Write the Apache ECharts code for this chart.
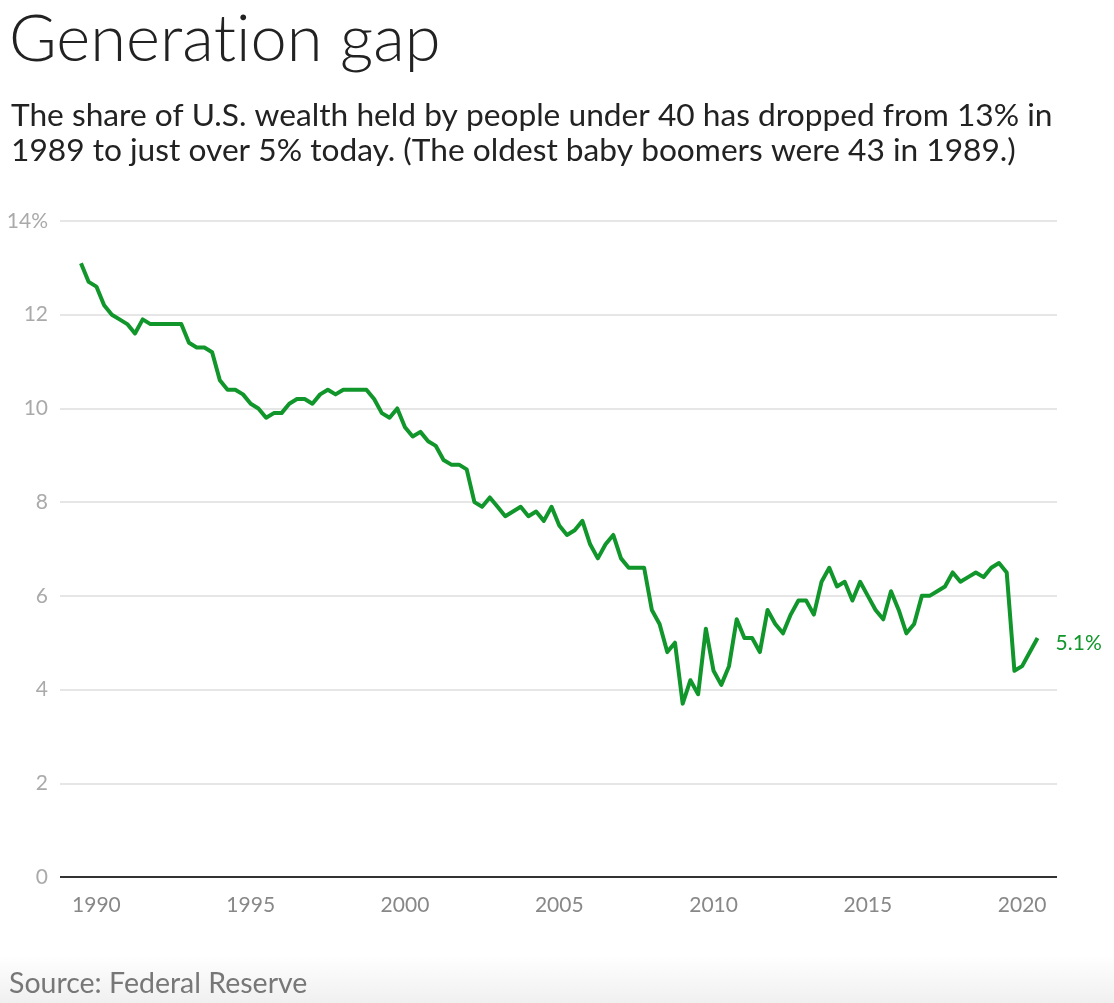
<!DOCTYPE html>
<html>
<head>
<meta charset="utf-8">
<script src="https://cdn.jsdelivr.net/npm/echarts@6/dist/echarts.min.js"></script>
<style>
  html, body { margin: 0; padding: 0; background: #fff; }
  #chart { width: 1114px; height: 1003px; }
</style>
</head>
<body>
<div id="chart"></div>
<script>
// Share of U.S. wealth held by people under 40, quarterly, 1989Q3 - 2020Q3
const startYear = 1989;
const startQuarter = 3;
const shareUnder40 = [
  13.1, 12.7, 12.6, 12.2, 12.0, 11.9, 11.8, 11.6, 11.9, 11.8, 11.8, 11.8, 11.8, 11.8, 11.4, 11.3, 11.3, 11.2, 10.6, 10.4, 10.4, 10.3,
  10.1, 10.0, 9.8, 9.9, 9.9, 10.1, 10.2, 10.2, 10.1, 10.3, 10.4, 10.3, 10.4, 10.4, 10.4, 10.4, 10.2, 9.9, 9.8, 10.0,
  9.6, 9.4, 9.5, 9.3, 9.2, 8.9, 8.8, 8.8, 8.7, 8.0, 7.9, 8.1, 7.9, 7.7, 7.8, 7.9, 7.7, 7.8, 7.6, 7.9,
  7.5, 7.3, 7.4, 7.6, 7.1, 6.8, 7.1, 7.3, 6.8, 6.6, 6.6, 6.6, 5.7, 5.4, 4.8, 5.0, 3.7, 4.2, 3.9, 5.3, 4.4, 4.1,
  4.5, 5.5, 5.1, 5.1, 4.8, 5.7, 5.4, 5.2, 5.6, 5.9, 5.9, 5.6, 6.3, 6.6, 6.2, 6.3, 5.9, 6.3, 6.0, 5.7,
  5.5, 6.1, 5.7, 5.2, 5.4, 6.0, 6.0, 6.1, 6.2, 6.5, 6.3, 6.4, 6.5, 6.4, 6.6, 6.7, 6.5, 4.4, 4.5, 4.8, 5.1
];
const yearTicks = [1990, 1995, 2000, 2005, 2010, 2015, 2020];
const yTicks = [0, 2, 4, 6, 8, 10, 12, 14];

const green = '#10962a';
const font = 'Lato, "Noto Sans", sans-serif';

// quarter index -> decimal year (Q1 = .0, Q3 = .5)
const seriesData = shareUnder40.map((v, i) => {
  const q = startQuarter - 1 + i;
  return [startYear + Math.floor(q / 4) + (q % 4) / 4, v];
});

const titleStyle = { fontFamily: font, fontWeight: 300, fontSize: 65, color: '#222' };

const chart = echarts.init(document.getElementById('chart'));
chart.setOption({
  backgroundColor: '#fff',
  animation: false,
  title: [
    {
      // "t" drawn as its own run so Lato doesn't swap in the "ti" ligature
      text: 'Genera{t|t}ion gap',
      left: 9, top: 8, padding: 0,
      textStyle: Object.assign({}, titleStyle, { rich: { t: titleStyle } })
    },
    {
      text: 'The share of U.S. wealth held by people under 40 has dropped from 13% in\n1989 to just over 5% today. (The oldest baby boomers were 43 in 1989.)',
      left: 11, top: 98, padding: 0,
      textStyle: { fontFamily: font, fontWeight: 400, fontSize: 31.7, lineHeight: 35, color: '#222' }
    },
    {
      text: 'Source: Federal Reserve',
      left: 9, top: 969, padding: 0,
      textStyle: { fontFamily: font, fontWeight: 400, fontSize: 28.5, color: '#777' }
    }
  ],
  graphic: [{
    type: 'rect', silent: true, z: -10,
    shape: { x: 0, y: 955, width: 1114, height: 48 },
    style: {
      fill: new echarts.graphic.LinearGradient(0, 0, 0, 1, [
        { offset: 0, color: 'rgba(240,240,240,0)' },
        { offset: 1, color: 'rgba(240,240,240,1)' }
      ])
    }
  }],
  grid: { left: 60, right: 57, top: 221, bottom: 126 },
  xAxis: {
    type: 'value',
    min: 1988.82, max: 2021.13,
    axisLine: { show: false },
    axisTick: { show: false },
    splitLine: { show: false },
    axisLabel: {
      customValues: yearTicks,
      margin: 18,
      formatter: v => String(v),
      fontFamily: font, fontSize: 21, color: '#888'
    }
  },
  yAxis: {
    type: 'value',
    min: 0, max: 14, interval: 2,
    axisLine: { show: false },
    axisTick: { show: false },
    splitLine: { lineStyle: { color: '#e6e6e6', width: 2 } },
    axisLabel: {
      margin: 12,
      fontFamily: font, fontSize: 21, color: '#aaa',
      formatter: v => v === yTicks[yTicks.length - 1] ? v + '%' : String(v)
    }
  },
  series: [
    {
      type: 'line',
      data: seriesData,
      symbol: 'none',
      lineStyle: { color: green, width: 4, join: 'round' },
      endLabel: {
        show: true,
        distance: 18,
        offset: [0, 5],
        formatter: p => p.value[1].toFixed(1) + '%',
        fontFamily: font, fontSize: 21, color: green
      },
      markLine: {
        silent: true, symbol: 'none', label: { show: false },
        lineStyle: { color: '#333', width: 2, type: 'solid' },
        data: [{ yAxis: 0 }]
      }
    }
  ]
});
</script>
</body>
</html>
